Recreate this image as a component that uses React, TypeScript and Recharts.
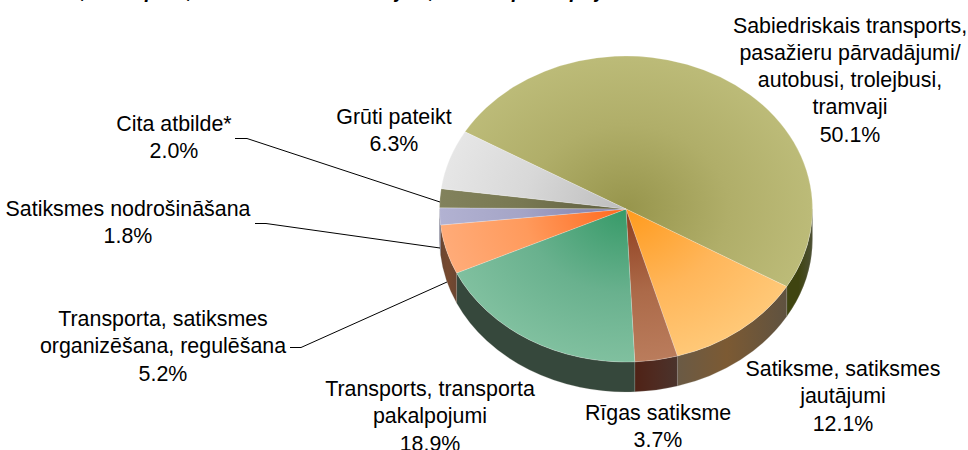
import React from "react";
import { PieChart, Pie, Cell } from "recharts";

const categories = [
  "Sabiedriskais transports, pasažieru pārvadājumi/ autobusi, trolejbusi, tramvaji",
  "Satiksme, satiksmes jautājumi",
  "Rīgas satiksme",
  "Transports, transporta pakalpojumi",
  "Transporta, satiksmes organizēšana, regulēšana",
  "Satiksmes nodrošināšana",
  "Cita atbilde*",
  "Grūti pateikt",
];
const values = [50.1, 12.1, 3.7, 18.9, 5.2, 1.8, 2.0, 6.3];
const valueLabels = ["50.1%", "12.1%", "3.7%", "18.9%", "5.2%", "1.8%", "2.0%", "6.3%"];
const data = categories.map((name, i) => ({ name, value: values[i] }));

// Presentation only
const innerColors = ["#97954c", "#ff9a1c", "#8e3d1e", "#369a68", "#ff681c", "#7a7aa6", "#5c5c3e", "#bcbcbc"];
const midColors = ["#b0ae69", "#ffb65a", "#ac6a49", "#69b18e", "#ff9a5c", "#a4a4c6", "#787852", "#d8d8d8"];
const outerColors = ["#bcbb78", "#ffc877", "#ba7c5c", "#80c09f", "#ffab78", "#b2b2d2", "#82825c", "#e6e6e6"];
const wallStops = [
  ["#3f4410", "#3f4410", "#4d5035"],
  ["#6a5a45", "#7c5a33", "#5f5240"],
  ["#4f2216", "#4f2a20", "#4a332c"],
  ["#36483c", "#36483c", "#36483c"],
  ["#6b4632", "#76492f", "#6b4632"],
  ["#55557a", "#55557a", "#55557a"],
  ["#4a4a30", "#4a4a30", "#4a4a30"],
  ["#888888", "#888888", "#888888"],
];

const CX = 626;
const CY = 209;
const RX = 186.5;
const SQUASH = 153 / 186.5;
const DEPTH = 30;

type LabelLayout = { x: number; y: number; lines: string[]; leader?: number[][] };
const labelLayout: LabelLayout[] = [
  { x: 850, y: 32.5, lines: ["Sabiedriskais transports,", "pasažieru pārvadājumi/", "autobusi, trolejbusi,", "tramvaji"] },
  { x: 843, y: 376, lines: ["Satiksme, satiksmes", "jautājumi"] },
  { x: 658, y: 420, lines: ["Rīgas satiksme"] },
  { x: 430, y: 396, lines: ["Transports, transporta", "pakalpojumi"] },
  {
    x: 163, y: 326, lines: ["Transporta, satiksmes", "organizēšana, regulēšana"],
    leader: [[290, 347.5], [301, 347.5], [447, 282]],
  },
  {
    x: 128, y: 216, lines: ["Satiksmes nodrošināšana"],
    leader: [[255, 223.5], [266, 223.5], [440, 248]],
  },
  {
    x: 174, y: 131, lines: ["Cita atbilde*"],
    leader: [[235, 138.5], [247, 138.5], [440, 202]],
  },
  { x: 394, y: 124, lines: ["Grūti pateikt"] },
];

const RAD = Math.PI / 180;
const pt = (cx: number, cy: number, r: number, deg: number, dy = 0) =>
  [cx + r * Math.cos(deg * RAD), cy - r * SQUASH * Math.sin(deg * RAD) + dy] as const;

// Elliptical wedge with its visible outer wall, from the sector angles given by the Pie.
function Slice3D(props: any) {
  const { cx, cy, outerRadius: r, startAngle, endAngle, index } = props;
  const a0 = startAngle;
  const a1 = endAngle; // clockwise: a1 < a0
  const p0 = pt(cx, cy, r, a0);
  const p1 = pt(cx, cy, r, a1);
  const large = a0 - a1 > 180 ? 1 : 0;
  const ry = r * SQUASH;
  const top = `M${cx},${cy}L${p0[0]},${p0[1]}A${r},${ry} 0 ${large} 1 ${p1[0]},${p1[1]}Z`;

  // front half of the rim is where sin(angle) < 0
  const norm = (a: number) => {
    let n = a % 360;
    if (n > 0) n -= 360;
    return n; // in (-360, 0]
  };
  const hi = norm(a0);
  const lo = hi - (a0 - a1);
  const walls: { d: string; x0: number; x1: number }[] = [];
  const spans: [number, number][] = [];
  for (const base of [0, 360, -360]) {
    const h = Math.min(hi, 0 + base);
    const l = Math.max(lo, -180 + base);
    if (h > l) spans.push([h, l]);
  }
  for (const [h, l] of spans) {
    const w0 = pt(cx, cy, r, h);
    const w1 = pt(cx, cy, r, l);
    const b1 = pt(cx, cy, r, l, DEPTH);
    const b0 = pt(cx, cy, r, h, DEPTH);
    walls.push({
      d: `M${w0[0]},${w0[1]}A${r},${ry} 0 0 1 ${w1[0]},${w1[1]}L${b1[0]},${b1[1]}A${r},${ry} 0 0 0 ${b0[0]},${b0[1]}Z`,
      x0: Math.min(w0[0], w1[0]),
      x1: Math.max(w0[0], w1[0]),
    });
  }
  return (
    <g>
      {walls.map((w, i) => (
        <g key={i}>
          <linearGradient
            id={`wallGrad${index}_${i}`}
            gradientUnits="userSpaceOnUse"
            x1={w.x0}
            x2={w.x1}
            y1={0}
            y2={0}
          >
            <stop offset="0%" stopColor={wallStops[index][0]} />
            <stop offset="45%" stopColor={wallStops[index][1]} />
            <stop offset="100%" stopColor={wallStops[index][2]} />
          </linearGradient>
          <path d={w.d} fill={`url(#wallGrad${index}_${i})`} stroke="#a8a8a0" strokeOpacity={0.35} strokeWidth={0.6} />
        </g>
      ))}
      <path d={top} fill={`url(#topGrad${index})`} stroke="#ffffff" strokeOpacity={0.35} strokeWidth={0.6} />
    </g>
  );
}

function SliceLabel(props: any) {
  const { index } = props;
  const l = labelLayout[index];
  const all = [...l.lines, valueLabels[index]];
  return (
    <g>
      {l.leader && (
        <path
          d={"M" + l.leader.map((p) => p.join(",")).join("L")}
          fill="none"
          stroke="#000000"
          strokeWidth={1}
        />
      )}
      <text
        x={l.x}
        y={l.y}
        textAnchor="middle"
        fontFamily="'Liberation Sans', Arial, sans-serif"
        fontSize={21.4}
        fill="#000000"
        style={{ fontSize: 21.4 }}
      >
        {all.map((t, i) => (
          <tspan key={i} x={l.x} dy={i === 0 ? 0 : 27.3}>
            {t}
          </tspan>
        ))}
      </text>
    </g>
  );
}

const clippedTitle = [",", "p", ",", "j", ",", "p", "p", "j"];
const clippedTitleX = [81, 145, 187, 396, 429, 512, 570, 596];

export default function App() {
  return (
    <div style={{ position: "absolute", left: 0, top: 0, width: 968, height: 450, background: "#fff", overflow: "hidden" }}>
      <PieChart width={968} height={450} margin={{ top: 0, right: 0, bottom: 0, left: 0 }}>
        <defs>
          {innerColors.map((c, i) => (
            <radialGradient
              key={i}
              id={`topGrad${i}`}
              gradientUnits="userSpaceOnUse"
              cx={0}
              cy={0}
              r={1}
              gradientTransform={`translate(${CX} ${CY}) scale(${RX} ${RX * SQUASH})`}
            >
              <stop offset="0%" stopColor={c} />
              <stop offset="55%" stopColor={midColors[i]} />
              <stop offset="100%" stopColor={outerColors[i]} />
            </radialGradient>
          ))}
        </defs>
        <text fontFamily="'Liberation Sans', Arial, sans-serif" fontStyle="italic" fontWeight="bold" fontSize={20} y={-2}>
          {clippedTitle.map((t, i) => (
            <tspan key={i} x={clippedTitleX[i]} y={-2}>
              {t}
            </tspan>
          ))}
        </text>
        <Pie
          data={data}
          dataKey="value"
          nameKey="name"
          cx={CX}
          cy={CY}
          innerRadius={0}
          outerRadius={RX}
          startAngle={-210.3}
          endAngle={-570.3}
          paddingAngle={0}
          stroke="none"
          isAnimationActive={false}
          shape={Slice3D}
          label={SliceLabel}
          labelLine={false}
        >
          {data.map((d, i) => (
            <Cell key={d.name} fill={outerColors[i]} />
          ))}
        </Pie>
      </PieChart>
    </div>
  );
}
